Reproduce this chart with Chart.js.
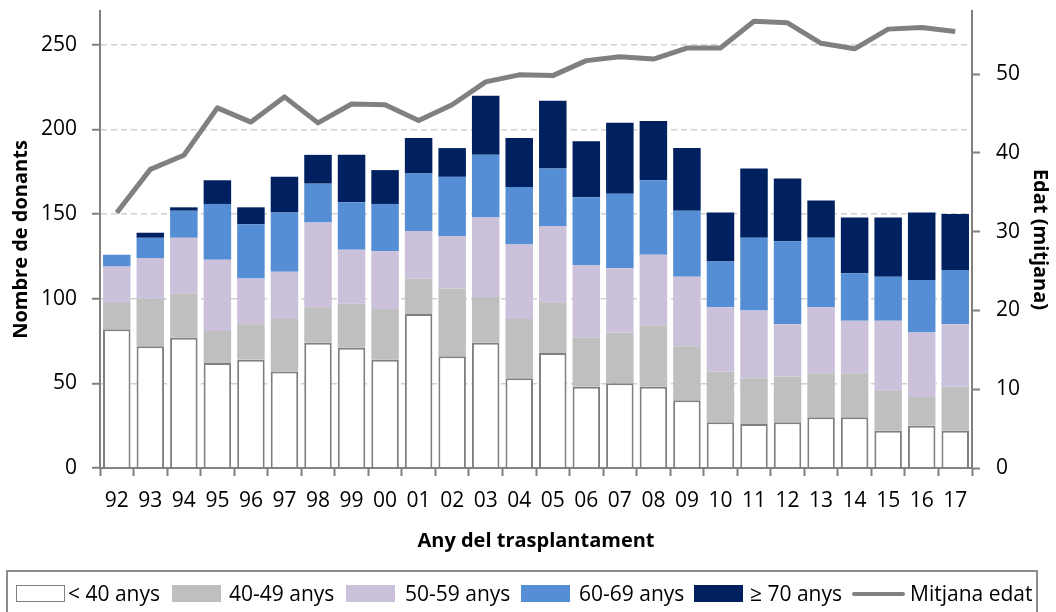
<!DOCTYPE html>
<html>
<head>
<meta charset="utf-8">
<script src="https://cdn.jsdelivr.net/npm/chart.js@4.4.1/dist/chart.umd.min.js"></script>
<style>
  html, body { margin: 0; padding: 0; background: #fff; }
  #wrap { position: relative; width: 1056px; height: 612px; font-family: "Open Sans", sans-serif; }
  #chart { position: absolute; left: 0; top: 0; }
  #legend { position: absolute; left: 6px; top: 570px; width: 1032px; height: 50px; border: 2px solid #8c8c8c; box-sizing: border-box; }
  .sw { position: absolute; top: 13px; width: 49px; height: 17px; box-sizing: border-box; }
  .txt { position: absolute; top: 7px; font-size: 21px; line-height: 28px; color: #000; white-space: nowrap; }
  .ln { position: absolute; top: 20px; width: 53px; height: 4px; background: #808080; border-radius: 2px; }
</style>
</head>
<body>
<div id="wrap">
  <canvas id="chart" width="1056" height="612"></canvas>
  <div id="legend">
    <div class="sw" style="left:8px;background:#fff;border:1.5px solid #808080"></div>
    <div class="txt" style="left:60px">&lt; 40 anys</div>
    <div class="sw" style="left:164px;background:#bfbfbf"></div>
    <div class="txt" style="left:221px">40-49 anys</div>
    <div class="sw" style="left:338px;background:#ccc1da"></div>
    <div class="txt" style="left:397px">50-59 anys</div>
    <div class="sw" style="left:513px;background:#558ed5"></div>
    <div class="txt" style="left:571px">60-69 anys</div>
    <div class="sw" style="left:686px;background:#002060"></div>
    <div class="txt" style="left:742px">≥ 70 anys</div>
    <div class="ln" style="left:844px"></div>
    <div class="txt" style="left:902px">Mitjana edat</div>
  </div>
</div>
<script>
// dades ==========================================================
const anys = ["92", "93", "94", "95", "96", "97", "98", "99", "00", "01", "02", "03", "04",
  "05", "06", "07", "08", "09", "10", "11", "12", "13", "14", "15", "16", "17"];
const menys40 = [82, 72, 77, 62, 64, 57, 74, 71, 64, 91, 66, 74, 53, 68, 48, 50, 48, 40, 27, 26, 27, 30, 30, 22, 25, 22];
const de40a49 = [16, 28, 26, 19, 21, 31, 21, 26, 30, 21, 40, 27, 35, 30, 29, 30, 36, 32, 30, 27, 27, 26, 26, 24, 17, 26];
const de50a59 = [21, 24, 33, 42, 27, 28, 50, 32, 34, 28, 31, 47, 44, 45, 43, 38, 42, 41, 38, 40, 31, 39, 31, 41, 38, 37];
const de60a69 = [7, 12, 16, 33, 32, 35, 23, 28, 28, 34, 35, 37, 34, 34, 40, 44, 44, 39, 27, 43, 49, 41, 28, 26, 31, 32];
const mes70 = [0, 3, 2, 14, 10, 21, 17, 28, 20, 21, 17, 35, 29, 40, 33, 42, 35, 37, 29, 41, 37, 22, 33, 35, 40, 33];
const mitjanaEdat = [32.4, 37.9, 39.7, 45.7, 43.9, 47.1, 43.8, 46.2, 46.1, 44.1, 46.1, 49.0, 49.9,
  49.8, 51.7, 52.2, 51.9, 53.3, 53.3, 56.7, 56.5, 53.9, 53.2, 55.7, 55.9, 55.4];
const ticksDonants = [0, 50, 100, 150, 200, 250];
const ticksEdat = [0, 10, 20, 30, 40, 50];

const gris = "#808080";
const fontTicks = { family: "Open Sans", size: 21 };
const fontTitol = { family: "Open Sans", size: 20, weight: "bold" };

const barra = (label, data, color, extra) => Object.assign({
  type: "bar",
  label: label,
  data: data,
  backgroundColor: color,
  borderWidth: 0,
  yAxisID: "y",
  order: 1,
  barPercentage: 0.82,
  categoryPercentage: 1,
}, extra || {});

// treu el marge que Chart.js afegeix per les etiquetes
const senseMarge = (s) => {
  s.paddingTop = 0;
  s.paddingBottom = 0;
  s.paddingLeft = 0;
  s.paddingRight = 0;
};

const chart = new Chart(document.getElementById("chart"), {
  data: {
    labels: anys,
    datasets: [
      {
        type: "line",
        label: "Mitjana edat",
        data: mitjanaEdat,
        borderColor: gris,
        borderWidth: 5,
        pointRadius: 0,
        tension: 0,
        borderJoinStyle: "round",
        yAxisID: "y1",
        order: 0,
      },
      barra("< 40 anys", menys40, "#ffffff", { borderColor: gris, borderWidth: 2 }),
      barra("40-49 anys", de40a49, "#bfbfbf"),
      barra("50-59 anys", de50a59, "#ccc1da"),
      barra("60-69 anys", de60a69, "#558ed5"),
      barra("≥ 70 anys", mes70, "#002060"),
    ],
  },
  options: {
    responsive: false,
    animation: false,
    layout: { padding: { top: 11, bottom: 59, left: 0, right: 0 } },
    plugins: { legend: { display: false }, tooltip: { enabled: false } },
    scales: {
      x: {
        stacked: true,
        grid: { offset: true, drawOnChartArea: false, tickLength: 8, tickColor: gris, tickWidth: 2 },
        border: { color: gris, width: 2 },
        ticks: { font: fontTicks, color: "#000", padding: 12, maxRotation: 0 },
        title: { display: true, text: "Any del trasplantament", font: fontTitol, color: "#000", padding: { top: 0, bottom: 0 } },
        afterFit: (s) => { s.height = 85; senseMarge(s); },
      },
      y: {
        stacked: true,
        position: "left",
        min: 0,
        max: 270,
        afterBuildTicks: (s) => { s.ticks = ticksDonants.map((v) => ({ value: v })); },
        grid: {
          color: (c) => (c.tick && c.tick.value === 0 ? "rgba(0,0,0,0)" : "#d0d0d0"),
          lineWidth: 1.5,
          tickLength: 8,
          tickColor: gris,
          tickWidth: 2,
        },
        border: { color: gris, width: 2, dash: [6, 4] },
        ticks: { font: fontTicks, color: "#000", padding: 15 },
        title: { display: true, text: "Nombre de donants", font: fontTitol, color: "#000", padding: { top: 9, bottom: 0 } },
        afterFit: (s) => { s.width = 100; senseMarge(s); },
      },
      y1: {
        position: "right",
        min: 0,
        max: 58,
        afterBuildTicks: (s) => { s.ticks = ticksEdat.map((v) => ({ value: v })); },
        grid: { drawOnChartArea: false, tickLength: 8, tickColor: gris, tickWidth: 2 },
        border: { color: gris, width: 2 },
        ticks: { font: fontTicks, color: "#000", padding: 16 },
        title: { display: true, text: "Edat (mitjana)", font: fontTitol, color: "#000", padding: { top: 4, bottom: 0 } },
        afterFit: (s) => { s.width = 84; senseMarge(s); },
      },
    },
  },
});
</script>
</body>
</html>
